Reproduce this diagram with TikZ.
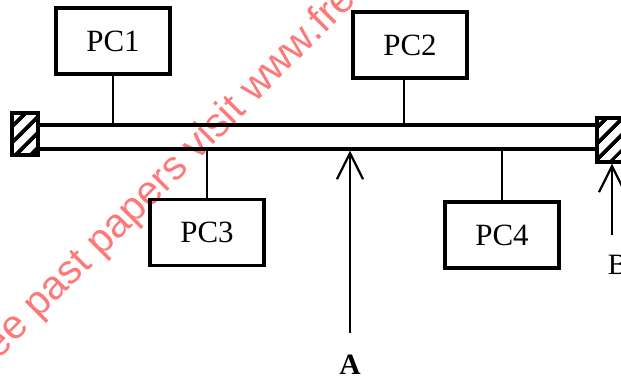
\documentclass[tikz,border=0pt]{standalone}
\usepackage{fontspec}
\setmainfont{Liberation Serif}
\newfontfamily\wmfont{Liberation Sans}
\usetikzlibrary{arrows.meta,patterns.meta}
\definecolor{wmred}{RGB}{255,120,120}

\begin{document}
\begin{tikzpicture}[>={Straight Barb[length=6.5mm,width=6.5mm]}, line width=1.6pt,
		pcbox/.style={draw, line width=2.4pt, minimum width=2.85cm, minimum height=1.65cm, font=\fontsize{22}{26}\selectfont},
		term/.style={draw, line width=2.4pt, minimum width=0.65cm, minimum height=1.05cm, inner sep=0pt, pattern={Lines[angle=45,distance=2.8mm,line width=1mm]}},
		lbl/.style={font=\fontsize{21}{25}\selectfont}]
	
	\useasboundingbox (0,0) rectangle (15.525,9.4);
	
	\begin{scope}
		\clip (0,0) rectangle (15.525,9.4);
		\node[rotate=45, anchor=base west, inner sep=0pt, text=wmred, font=\wmfont\fontsize{29}{32}\selectfont] (mark) at (-0.05,0.38) {ee past papers visit www.fre};
	\end{scope}
	
	\node[draw, line width=2.4pt, minimum width=13.975cm, minimum height=0.6cm, inner sep=0pt] (bus) at (7.9375,5.975) {};
	\node[term] (termL) at (0.625,6.05) {};
	\node[term, minimum height=1.1cm] (termR) at (15.25,5.9) {};
	
	\foreach \n/\x/\y in {1/2.825/8.375, 2/10.25/8.275, 3/5.175/3.5875, 4/12.55/3.525} {
		\node[pcbox] (PC\n) at (\x,\y) {PC\n};
	}
	
	\draw (PC1.south) -- (PC1.south |- bus.north);
	\draw ([xshift=-1.5mm]PC2.south) -- ([xshift=-1.5mm]PC2.south |- bus.north);
	\draw (PC3.north) -- (PC3.north |- bus.south);
	\draw (PC4.north) -- (PC4.north |- bus.south);
	
	\coordinate (tailA) at (8.75,1.075);
	\coordinate (tailB) at (15.3,3.525);
	\draw[->] (tailA) -- (tailA |- bus.south);
	\draw[->] (tailB) -- (tailB |- termR.south);
	
	\node[lbl, font=\fontsize{21}{25}\selectfont\bfseries] (labA) at (8.75,0.275) {A};
	\node[lbl] (labB) at (15.44,2.775) {B};
	
\end{tikzpicture}
\end{document}
